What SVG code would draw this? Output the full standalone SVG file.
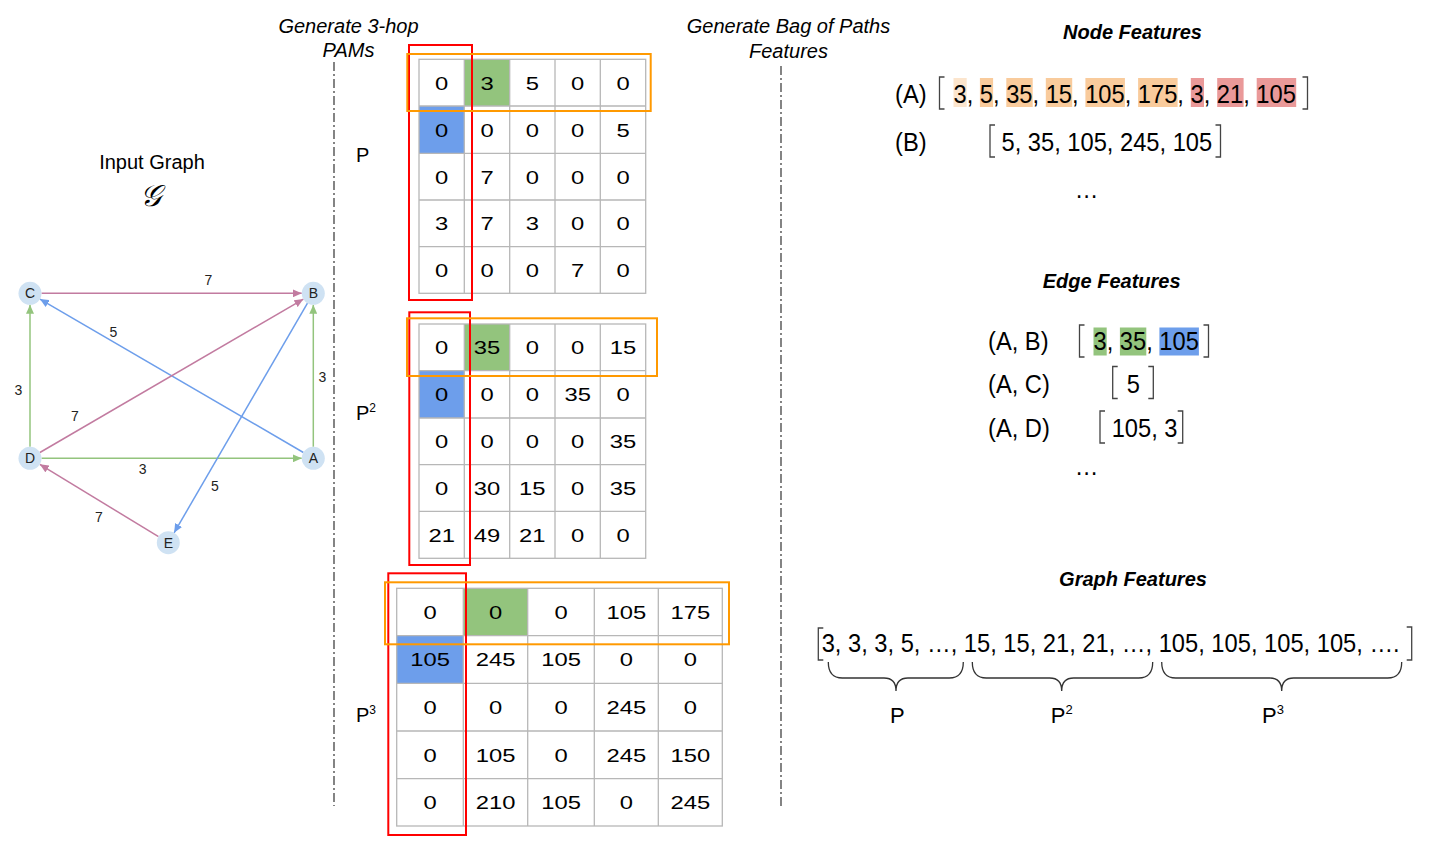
<svg xmlns="http://www.w3.org/2000/svg" width="1438" height="842" viewBox="0 0 1438 842">
<style>
text{font-family:"Liberation Sans",Arial,sans-serif;fill:#000}
.hdr{font-size:20px;font-style:italic}
.ttl{font-size:20px;font-style:italic;font-weight:bold;text-anchor:middle}
.nl{font-size:14px;text-anchor:middle;fill:#222}
.el{font-size:14px;text-anchor:middle;fill:#222}
.m{font-size:18.6px;text-anchor:middle}
.rt{font-size:26.5px}
.lab{font-size:20px}
.grid{fill:none;stroke:#b7b7b7;stroke-width:1.3}
.red{fill:none;stroke:#ff0000;stroke-width:2}
.org{fill:none;stroke:#ff9900;stroke-width:2}
.brk{fill:none;stroke:#444;stroke-width:1.3}
.brace{fill:none;stroke:#333;stroke-width:1.3}
.dd{stroke:#333;stroke-width:1.2;stroke-dasharray:9 3 2 3}
.node circle{fill:#cfe2f3}
.pink{stroke:#c27ba0;stroke-width:1.5;fill:none}
.blue{stroke:#6d9eeb;stroke-width:1.5;fill:none}
.green{stroke:#93c47d;stroke-width:1.5;fill:none}
</style>
<defs>
<marker id="ap" markerUnits="userSpaceOnUse" markerWidth="9" markerHeight="8" refX="9" refY="4" orient="auto"><path d="M0,0 L9,4 L0,8 z" fill="#c27ba0"/></marker>
<marker id="ab" markerUnits="userSpaceOnUse" markerWidth="9" markerHeight="8" refX="9" refY="4" orient="auto"><path d="M0,0 L9,4 L0,8 z" fill="#6d9eeb"/></marker>
<marker id="ag" markerUnits="userSpaceOnUse" markerWidth="9" markerHeight="8" refX="9" refY="4" orient="auto"><path d="M0,0 L9,4 L0,8 z" fill="#93c47d"/></marker>
</defs>
<rect width="1438" height="842" fill="#fff"/>

<!-- headers -->
<g id="headers">
<text class="hdr" x="348.5" y="33" text-anchor="middle">Generate 3-hop</text>
<text class="hdr" x="348.5" y="57" text-anchor="middle">PAMs</text>
<text class="hdr" x="788.5" y="33" text-anchor="middle">Generate Bag of Paths</text>
<text class="hdr" x="788.5" y="58" text-anchor="middle">Features</text>
<line class="dd" x1="334" y1="62" x2="334" y2="806"/>
<line class="dd" x1="781" y1="66" x2="781" y2="806"/>
</g>

<!-- input graph -->
<g id="input-graph-title">
<text x="152" y="169" font-size="20" text-anchor="middle">Input Graph</text>
<text x="150" y="206" font-size="30" text-anchor="middle" font-family="DejaVu Serif, serif" font-style="italic">𝒢</text>
</g>

<g id="edges">
<line class="pink" x1="41.5" y1="293.3" x2="301.8" y2="293.3" marker-end="url(#ap)"/>
<line class="blue" x1="303.4" y1="452.5" x2="39.9" y2="299.1" marker-end="url(#ab)"/>
<line class="green" x1="30" y1="446.8" x2="30" y2="304.8" marker-end="url(#ag)"/>
<line class="green" x1="313.3" y1="446.8" x2="313.3" y2="304.8" marker-end="url(#ag)"/>
<line class="pink" x1="39.9" y1="452.5" x2="303.4" y2="299.1" marker-end="url(#ap)"/>
<line class="green" x1="41.5" y1="458.3" x2="301.8" y2="458.3" marker-end="url(#ag)"/>
<line class="blue" x1="307.5" y1="303.2" x2="174.1" y2="532.8" marker-end="url(#ab)"/>
<line class="pink" x1="158.5" y1="536.7" x2="39.8" y2="464.3" marker-end="url(#ap)"/>
<text class="el" x="208.3" y="285">7</text>
<text class="el" x="113.3" y="337">5</text>
<text class="el" x="18.3" y="395">3</text>
<text class="el" x="322.3" y="381.5">3</text>
<text class="el" x="75" y="421">7</text>
<text class="el" x="142.7" y="473.5">3</text>
<text class="el" x="215" y="491">5</text>
<text class="el" x="99" y="521.5">7</text>
</g>

<g id="node-C" class="node"><circle cx="30" cy="293.3" r="11.5"/><text class="nl" x="30" y="298.3">C</text></g>
<g id="node-B" class="node"><circle cx="313.3" cy="293.3" r="11.5"/><text class="nl" x="313.3" y="298.3">B</text></g>
<g id="node-D" class="node"><circle cx="30" cy="458.3" r="11.5"/><text class="nl" x="30" y="463.3">D</text></g>
<g id="node-A" class="node"><circle cx="313.3" cy="458.3" r="11.5"/><text class="nl" x="313.3" y="463.3">A</text></g>
<g id="node-E" class="node"><circle cx="168.3" cy="542.7" r="11.5"/><text class="nl" x="168.3" y="547.7">E</text></g>

<!-- matrix labels -->
<g id="matrix-labels">
<text class="lab" x="356" y="162">P</text>
<text class="lab" x="356" y="420">P<tspan font-size="12" dy="-8">2</tspan></text>
<text class="lab" x="356" y="722">P<tspan font-size="12" dy="-8">3</tspan></text>
</g>

<!-- Matrix P -->
<g id="matrix-P">
<rect x="419" y="59.3" width="226.7" height="234" fill="#fff"/>
<rect x="464.3" y="59.3" width="45.4" height="46.7" fill="#93c47d"/>
<rect x="419" y="106" width="45.3" height="47.3" fill="#6d9eeb"/>
<rect class="grid" x="419" y="59.3" width="226.7" height="234"/>
<path class="grid" d="M464.3,59.3V293.3M509.7,59.3V293.3M555,59.3V293.3M600.3,59.3V293.3M419,106H645.7M419,153.3H645.7M419,200H645.7M419,246.7H645.7"/>
<text class="m" transform="translate(441.7,89.5) scale(1.28,1)">0</text>
<text class="m" transform="translate(487,89.5) scale(1.28,1)">3</text>
<text class="m" transform="translate(532.3,89.5) scale(1.28,1)">5</text>
<text class="m" transform="translate(577.7,89.5) scale(1.28,1)">0</text>
<text class="m" transform="translate(623,89.5) scale(1.28,1)">0</text>
<text class="m" transform="translate(441.7,136.5) scale(1.28,1)">0</text>
<text class="m" transform="translate(487,136.5) scale(1.28,1)">0</text>
<text class="m" transform="translate(532.3,136.5) scale(1.28,1)">0</text>
<text class="m" transform="translate(577.7,136.5) scale(1.28,1)">0</text>
<text class="m" transform="translate(623,136.5) scale(1.28,1)">5</text>
<text class="m" transform="translate(441.7,183.5) scale(1.28,1)">0</text>
<text class="m" transform="translate(487,183.5) scale(1.28,1)">7</text>
<text class="m" transform="translate(532.3,183.5) scale(1.28,1)">0</text>
<text class="m" transform="translate(577.7,183.5) scale(1.28,1)">0</text>
<text class="m" transform="translate(623,183.5) scale(1.28,1)">0</text>
<text class="m" transform="translate(441.7,230) scale(1.28,1)">3</text>
<text class="m" transform="translate(487,230) scale(1.28,1)">7</text>
<text class="m" transform="translate(532.3,230) scale(1.28,1)">3</text>
<text class="m" transform="translate(577.7,230) scale(1.28,1)">0</text>
<text class="m" transform="translate(623,230) scale(1.28,1)">0</text>
<text class="m" transform="translate(441.7,276.8) scale(1.28,1)">0</text>
<text class="m" transform="translate(487,276.8) scale(1.28,1)">0</text>
<text class="m" transform="translate(532.3,276.8) scale(1.28,1)">0</text>
<text class="m" transform="translate(577.7,276.8) scale(1.28,1)">7</text>
<text class="m" transform="translate(623,276.8) scale(1.28,1)">0</text>
<rect class="red" x="409" y="45" width="63" height="255"/>
<rect class="org" x="407.3" y="54" width="243.4" height="57"/>
</g>

<!-- Matrix P2 -->
<g id="matrix-P2">
<rect x="419" y="324" width="226.7" height="234.3" fill="#fff"/>
<rect x="464.3" y="324" width="45.4" height="46.7" fill="#93c47d"/>
<rect x="419" y="370.7" width="45.3" height="47.3" fill="#6d9eeb"/>
<rect class="grid" x="419" y="324" width="226.7" height="234.3"/>
<path class="grid" d="M464.3,324V558.3M509.7,324V558.3M555,324V558.3M600.3,324V558.3M419,370.7H645.7M419,418H645.7M419,464.7H645.7M419,511.3H645.7"/>
<text class="m" transform="translate(441.7,354.1) scale(1.28,1)">0</text>
<text class="m" transform="translate(487,354.1) scale(1.28,1)">35</text>
<text class="m" transform="translate(532.3,354.1) scale(1.28,1)">0</text>
<text class="m" transform="translate(577.7,354.1) scale(1.28,1)">0</text>
<text class="m" transform="translate(623,354.1) scale(1.28,1)">15</text>
<text class="m" transform="translate(441.7,401.1) scale(1.28,1)">0</text>
<text class="m" transform="translate(487,401.1) scale(1.28,1)">0</text>
<text class="m" transform="translate(532.3,401.1) scale(1.28,1)">0</text>
<text class="m" transform="translate(577.7,401.1) scale(1.28,1)">35</text>
<text class="m" transform="translate(623,401.1) scale(1.28,1)">0</text>
<text class="m" transform="translate(441.7,448.1) scale(1.28,1)">0</text>
<text class="m" transform="translate(487,448.1) scale(1.28,1)">0</text>
<text class="m" transform="translate(532.3,448.1) scale(1.28,1)">0</text>
<text class="m" transform="translate(577.7,448.1) scale(1.28,1)">0</text>
<text class="m" transform="translate(623,448.1) scale(1.28,1)">35</text>
<text class="m" transform="translate(441.7,494.8) scale(1.28,1)">0</text>
<text class="m" transform="translate(487,494.8) scale(1.28,1)">30</text>
<text class="m" transform="translate(532.3,494.8) scale(1.28,1)">15</text>
<text class="m" transform="translate(577.7,494.8) scale(1.28,1)">0</text>
<text class="m" transform="translate(623,494.8) scale(1.28,1)">35</text>
<text class="m" transform="translate(441.7,541.6) scale(1.28,1)">21</text>
<text class="m" transform="translate(487,541.6) scale(1.28,1)">49</text>
<text class="m" transform="translate(532.3,541.6) scale(1.28,1)">21</text>
<text class="m" transform="translate(577.7,541.6) scale(1.28,1)">0</text>
<text class="m" transform="translate(623,541.6) scale(1.28,1)">0</text>
<rect class="red" x="409.3" y="312.3" width="60.7" height="252.7"/>
<rect class="org" x="407" y="318.3" width="250" height="57.7"/>
</g>

<!-- Matrix P3 -->
<g id="matrix-P3">
<rect x="396.7" y="588.3" width="325.6" height="237.7" fill="#fff"/>
<rect x="463.3" y="588.3" width="64.4" height="47.4" fill="#93c47d"/>
<rect x="396.7" y="635.7" width="66.6" height="47.6" fill="#6d9eeb"/>
<rect class="grid" x="396.7" y="588.3" width="325.6" height="237.7"/>
<path class="grid" d="M463.3,588.3V826M527.7,588.3V826M594.3,588.3V826M658.3,588.3V826M396.7,635.7H722.3M396.7,683.3H722.3M396.7,731H722.3M396.7,778.7H722.3"/>
<text class="m" transform="translate(430,618.8) scale(1.28,1)">0</text>
<text class="m" transform="translate(495.5,618.8) scale(1.28,1)">0</text>
<text class="m" transform="translate(561,618.8) scale(1.28,1)">0</text>
<text class="m" transform="translate(626.3,618.8) scale(1.28,1)">105</text>
<text class="m" transform="translate(690.3,618.8) scale(1.28,1)">175</text>
<text class="m" transform="translate(430,666.3) scale(1.28,1)">105</text>
<text class="m" transform="translate(495.5,666.3) scale(1.28,1)">245</text>
<text class="m" transform="translate(561,666.3) scale(1.28,1)">105</text>
<text class="m" transform="translate(626.3,666.3) scale(1.28,1)">0</text>
<text class="m" transform="translate(690.3,666.3) scale(1.28,1)">0</text>
<text class="m" transform="translate(430,714) scale(1.28,1)">0</text>
<text class="m" transform="translate(495.5,714) scale(1.28,1)">0</text>
<text class="m" transform="translate(561,714) scale(1.28,1)">0</text>
<text class="m" transform="translate(626.3,714) scale(1.28,1)">245</text>
<text class="m" transform="translate(690.3,714) scale(1.28,1)">0</text>
<text class="m" transform="translate(430,761.6) scale(1.28,1)">0</text>
<text class="m" transform="translate(495.5,761.6) scale(1.28,1)">105</text>
<text class="m" transform="translate(561,761.6) scale(1.28,1)">0</text>
<text class="m" transform="translate(626.3,761.6) scale(1.28,1)">245</text>
<text class="m" transform="translate(690.3,761.6) scale(1.28,1)">150</text>
<text class="m" transform="translate(430,809.1) scale(1.28,1)">0</text>
<text class="m" transform="translate(495.5,809.1) scale(1.28,1)">210</text>
<text class="m" transform="translate(561,809.1) scale(1.28,1)">105</text>
<text class="m" transform="translate(626.3,809.1) scale(1.28,1)">0</text>
<text class="m" transform="translate(690.3,809.1) scale(1.28,1)">245</text>
<rect class="red" x="388.3" y="573.3" width="77.7" height="261.7"/>
<rect class="org" x="385" y="582.3" width="344" height="62"/>
</g>

<!-- Node features -->
<g id="node-features">
<text class="ttl" x="1132.5" y="39">Node Features</text>
<text class="rt" transform="translate(895,103) scale(0.894,1)">(A)</text>
<rect x="953.5" y="78" width="13.2" height="29" fill="#fce5cd"/>
<rect x="979.9" y="78" width="13.2" height="29" fill="#f9cb9c"/>
<rect x="1006.3" y="78" width="26.4" height="29" fill="#f9cb9c"/>
<rect x="1045.8" y="78" width="26.4" height="29" fill="#f9cb9c"/>
<rect x="1085.4" y="78" width="39.5" height="29" fill="#f9cb9c"/>
<rect x="1138.1" y="78" width="39.5" height="29" fill="#f9cb9c"/>
<rect x="1190.8" y="78" width="13.2" height="29" fill="#ea9999"/>
<rect x="1217.2" y="78" width="26.4" height="29" fill="#ea9999"/>
<rect x="1256.7" y="78" width="39.5" height="29" fill="#ea9999"/>
<text class="rt" transform="translate(953.5,102.5) scale(0.894,1)">3, 5, 35, 15, 105, 175, 3, 21, 105</text>
<path class="brk" d="M944.5,77H939.5V109H944.5M1302.5,77H1307.5V109H1302.5"/>
<text class="rt" transform="translate(895,151) scale(0.894,1)">(B)</text>
<path class="brk" d="M995,125H990V157H995M1215.5,125H1220.5V157H1215.5"/>
<text class="rt" transform="translate(1001.5,151) scale(0.894,1)">5, 35, 105, 245, 105</text>
<text class="rt" text-anchor="middle" transform="translate(1086.7,198) scale(0.894,1)">…</text>
</g>

<!-- Edge features -->
<g id="edge-features">
<text class="ttl" x="1111.7" y="288">Edge Features</text>
<text class="rt" transform="translate(988,350) scale(0.894,1)">(A, B)</text>
<rect x="1093.5" y="327.5" width="13.2" height="28" fill="#93c47d"/>
<rect x="1119.9" y="327.5" width="26.4" height="28" fill="#93c47d"/>
<rect x="1159.4" y="327.5" width="39.5" height="28" fill="#6d9eeb"/>
<text class="rt" transform="translate(1093.5,350) scale(0.894,1)">3, 35, 105</text>
<path class="brk" d="M1084.5,325H1079.5V357H1084.5M1203.5,325H1208.5V357H1203.5"/>
<text class="rt" transform="translate(988,393) scale(0.894,1)">(A, C)</text>
<path class="brk" d="M1117.7,366.5H1112.7V398.5H1117.7M1148.3,366.5H1153.3V398.5H1148.3"/>
<text class="rt" transform="translate(1126.7,393) scale(0.894,1)">5</text>
<text class="rt" transform="translate(988,437) scale(0.894,1)">(A, D)</text>
<path class="brk" d="M1105,411H1100V443H1105M1177.7,411H1182.7V443H1177.7"/>
<text class="rt" transform="translate(1111.7,437) scale(0.894,1)">105, 3</text>
<text class="rt" text-anchor="middle" transform="translate(1086.7,475) scale(0.894,1)">…</text>
</g>

<!-- Graph features -->
<g id="graph-features">
<text class="ttl" x="1133" y="586">Graph Features</text>
<path class="brk" d="M823.3,628H818.3V660H823.3M1406.7,627H1411.7V660H1406.7"/>
<text class="rt" transform="translate(821.7,651.7) scale(0.894,1)">3, 3, 3, 5, …, 15, 15, 21, 21, …, 105, 105, 105, 105, ….</text>
<path class="brace" d="M828.3,662Q828.3,678 842.3,678L884,678Q896,678 896,691Q896,678 908,678L949.3,678Q963.3,678 963.3,662"/>
<path class="brace" d="M972.3,662Q972.3,678 986.3,678L1049.7,678Q1061.7,678 1061.7,691Q1061.7,678 1073.7,678L1138.7,678Q1152.7,678 1152.7,662"/>
<path class="brace" d="M1161.7,662Q1161.7,678 1175.7,678L1269.7,678Q1281.7,678 1281.7,691Q1281.7,678 1293.7,678L1387.7,678Q1401.7,678 1401.7,662"/>
<text x="897.3" y="723" font-size="22" text-anchor="middle">P</text>
<text x="1050.7" y="723" font-size="22">P<tspan font-size="13" dy="-9">2</tspan></text>
<text x="1262" y="723" font-size="22">P<tspan font-size="13" dy="-9">3</tspan></text>
</g>
</svg>
